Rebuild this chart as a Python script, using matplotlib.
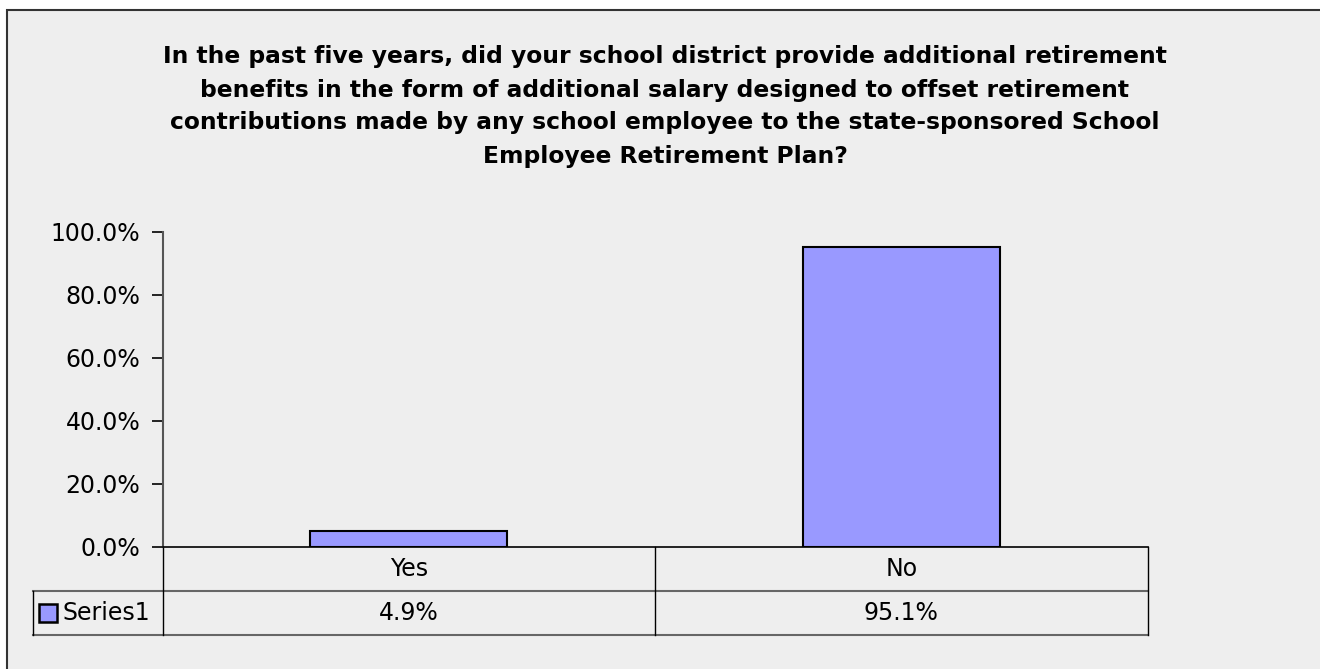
import matplotlib.pyplot as plt
from matplotlib.patches import Rectangle
from matplotlib.lines import Line2D

title_lines = [
    "In the past five years, did your school district provide additional retirement",
    "benefits in the form of additional salary designed to offset retirement",
    "contributions made by any school employee to the state-sponsored School",
    "Employee Retirement Plan?",
]
categories = ["Yes", "No"]
values = [0.049, 0.951]
series_name = "Series1"

bar_color = "#9999FF"
bg = "#EEEEEE"
W, H = 1320, 669
fs = 17

fig = plt.figure(figsize=(W / 100, H / 100), dpi=100)
fig.patch.set_facecolor("white")

# chart frame (runs off the right and bottom edges)
fig.patches.append(Rectangle((7 / W, -0.1), 1.2, 1 - 10 / H + 0.1, transform=fig.transFigure,
                             facecolor=bg, edgecolor="#333333", linewidth=1.5, zorder=-5))

for i, line in enumerate(title_lines):
    fig.text(665 / W, 1 - (57 + 33 * i) / H, line, ha="center", va="center",
             fontsize=16.8, fontweight="bold", family="DejaVu Sans")

ax_l, ax_r, ax_b, ax_t = 162.5, 1147.5, 546.5, 231.5
ax = fig.add_axes([ax_l / W, 1 - ax_b / H, (ax_r - ax_l) / W, (ax_b - ax_t) / H])
ax.patch.set_alpha(0)

x = list(range(len(categories)))
ax.bar(x, values, width=0.4, color=bar_color, edgecolor="black", linewidth=1.5, zorder=3)
ax.set_xlim(-0.5, len(categories) - 0.5)
ax.set_ylim(0, 1)
ax.set_yticks([0, 0.2, 0.4, 0.6, 0.8, 1.0])
ax.set_yticklabels([f"{v * 100:.1f}%" for v in ax.get_yticks()], fontsize=fs)
ax.set_xticks([])
for s in ["top", "right"]:
    ax.spines[s].set_visible(False)
ax.spines["left"].set_color("#555555")
ax.spines["left"].set_linewidth(1.5)
ax.spines["bottom"].set_color("black")
ax.spines["bottom"].set_linewidth(1.2)
ax.tick_params(axis="y", length=8, width=1.2, pad=8, color="black")

# data table under the axis
aw = ax_r - ax_l
ah = ax_b - ax_t
r1 = -(591 - ax_b) / ah
r2 = -(635 - ax_b) / ah
left_cell = -(ax_l - 33) / aw
tr = ax.transAxes

def hline(y, x0, x1):
    ax.add_line(Line2D([x0, x1], [y, y], transform=tr, color="#666666", lw=1.5, clip_on=False))

def vline(xx, y0, y1):
    ax.add_line(Line2D([xx, xx], [y0, y1], transform=tr, color="black", lw=1.0, clip_on=False))

hline(r1, left_cell, 1)
hline(r2, left_cell, 1)
n = len(categories)
for k in range(n + 1):
    vline(k / n, 0, r2)
vline(left_cell, r1, r2)

for k, (cat, val) in enumerate(zip(categories, values)):
    cx = (k + 0.5) / n
    ax.text(cx, r1 / 2, cat, transform=tr, ha="center", va="center", fontsize=fs)
    ax.text(cx, (r1 + r2) / 2, f"{val * 100:.1f}%", transform=tr, ha="center", va="center", fontsize=fs)

# legend key in the row header
ym = (r1 + r2) / 2
sw, sh = 18 / aw, 18 / ah
ax.add_patch(Rectangle(((39 - ax_l) / aw, ym - sh / 2), sw, sh, transform=tr, facecolor=bar_color,
                       edgecolor="black", lw=1.8, clip_on=False))
ax.text((62 - ax_l) / aw, ym, series_name, transform=tr, ha="left", va="center", fontsize=fs)

fig.savefig("out.png", dpi=100)
